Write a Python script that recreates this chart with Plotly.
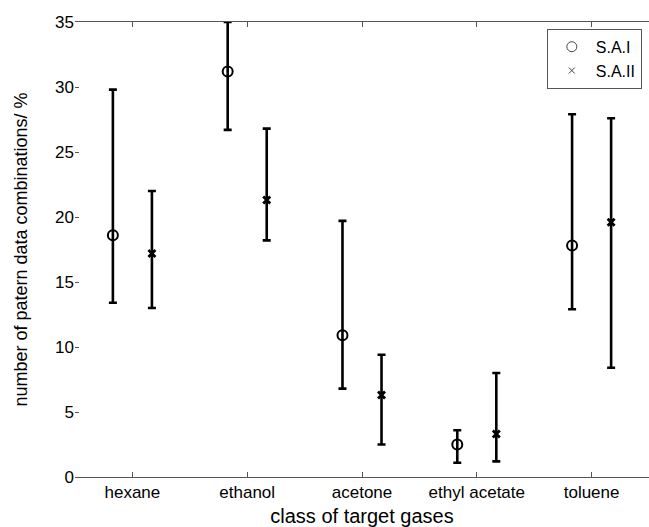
import plotly.graph_objects as go

categories = ["hexane", "ethanol", "acetone", "ethyl acetate", "toluene"]

sa1_mean = [18.6, 31.2, 10.9, 2.5, 17.8]
sa1_upper = [29.8, 35.0, 19.7, 3.6, 27.9]
sa1_lower = [13.4, 26.7, 6.8, 1.1, 12.9]

sa2_mean = [17.2, 21.3, 6.3, 3.3, 19.6]
sa2_upper = [22.0, 26.8, 9.4, 8.0, 27.6]
sa2_lower = [13.0, 18.2, 2.5, 1.2, 8.4]

offset = 0.17
idx = list(range(1, len(categories) + 1))

fig = go.Figure()

def add_series(name, mean, upper, lower, sign, symbol, msize, mline, lsize, lline):
    fig.add_trace(go.Scatter(
        x=[i + sign * offset for i in idx],
        y=mean,
        mode="markers",
        name=name,
        showlegend=False,
        marker=dict(symbol=symbol, size=msize, color="black",
                    line=dict(color="black", width=mline)),
        error_y=dict(type="data", symmetric=False,
                     array=[u - m for u, m in zip(upper, mean)],
                     arrayminus=[m - l for m, l in zip(mean, lower)],
                     color="black", thickness=2.6, width=4),
    ))
    # legend entry (thin grey marker as in the reference legend)
    fig.add_trace(go.Scatter(
        x=[None], y=[None], mode="markers", name=name,
        marker=dict(symbol=symbol, size=lsize, color="#444444",
                    line=dict(color="#444444", width=lline)),
    ))

add_series("S.A.I", sa1_mean, sa1_upper, sa1_lower, -1, "circle-open", 10, 2.0, 10, 1)
add_series("S.A.II", sa2_mean, sa2_upper, sa2_lower, 1, "x-thin-open", 7, 2.8, 6, 1)

font = "Liberation Sans, Arial, sans-serif"
fig.update_layout(
    width=649, height=527,
    margin=dict(l=75, r=0, t=22, b=50, autoexpand=False),
    paper_bgcolor="white", plot_bgcolor="white",
    font=dict(family=font, size=17, color="black"),
    showlegend=True,
    legend=dict(x=0.822, y=0.985, xanchor="left", yanchor="top",
                bordercolor="#555555", borderwidth=1, bgcolor="white",
                font=dict(size=16), itemwidth=38, tracegroupgap=0),
    xaxis=dict(range=[0.5, 5.5], tickvals=idx, ticktext=categories,
               showline=True, linecolor="#555555", linewidth=1, mirror="ticks",
               ticks="inside", ticklen=5, tickcolor="#555555",
               showgrid=False, zeroline=False, automargin=False,
               title=dict(text="class of target gases", font=dict(size=20), standoff=10)),
    yaxis=dict(range=[0, 35], tickvals=[0, 5, 10, 15, 20, 25, 30, 35],
               showline=False, ticks="inside", ticklen=4, tickcolor="#555555",
               showgrid=False, zeroline=False, automargin=False,
               title=dict(text="number of patern data combinations/ %", font=dict(size=18), standoff=22)),
)

fig.write_html("out.html")
